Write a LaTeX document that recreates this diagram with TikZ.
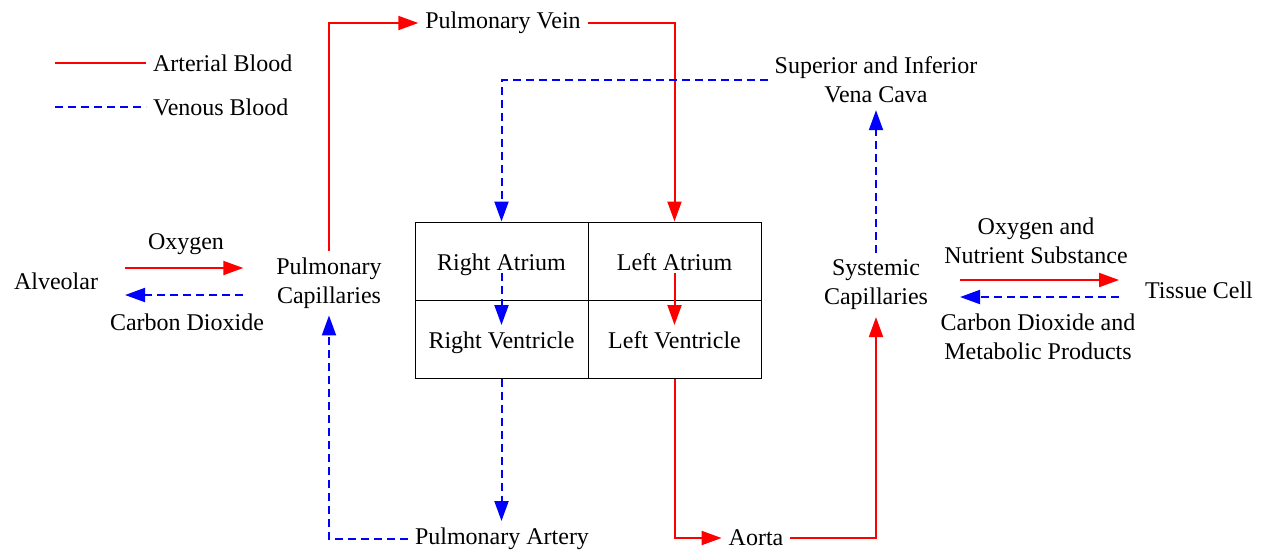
\documentclass[tikz,border=0pt]{standalone}
\usepackage{fontspec}
\setmainfont{Liberation Serif}
\newfontfamily\diagfont{Liberation Serif}
\usetikzlibrary{arrows.meta, positioning}

\begin{document}
\begin{tikzpicture}[
        x=0.5pt, y=-0.5pt,
        lbl/.style={align=center, font=\diagfont\fontsize{12}{14.5}\selectfont},
        cell/.style={draw, line width=0.5pt, rectangle, minimum width=86.5pt, minimum height=39pt, text height=11.5pt, text depth=2.5pt, font=\diagfont\fontsize{12}{14.5}\selectfont},
        art/.style={red, line width=1pt, -{Triangle[length=10pt, width=7pt]}},
        ven/.style={blue, line width=1pt, dash pattern=on 4pt off 2.5pt, -{Triangle[length=10pt, width=7pt]}}
    ]
        \useasboundingbox (0,0) rectangle (1265,554);

        % --- Legend ---
        \node[lbl, anchor=west] (legart) at (146,63) {Arterial Blood};
        \node[lbl, anchor=west] (legven) at (146,107) {Venous Blood};
        \draw[art, -] (55,63) -- (legart.west);
        \draw[ven, -] (55,107) -- (legven.west);

        % --- Heart chambers ---
        \node[cell] (ra) at (501.5,261) {Right Atrium};
        \node[cell] (la) at (674.5,261) {Left Atrium};
        \node[cell] (rv) at (501.5,339) {Right Ventricle};
        \node[cell] (lv) at (674.5,339) {Left Ventricle};

        % --- Vessels and capillaries ---
        \node[lbl] (pv) at (503,23) {Pulmonary Vein};
        \node[lbl] (vc) at (876,80) {Superior and Inferior\\Vena Cava};
        \node[lbl] (pc) at (329,283) {Pulmonary\\Capillaries};
        \node[lbl] (sc) at (876,285) {Systemic\\Capillaries};
        \node[lbl] (pa) at (502,539) {Pulmonary Artery};
        \node[lbl] (ao) at (756,538) {Aorta};

        % --- Exchange partners ---
        \node[lbl] (al) at (56,281) {Alveolar};
        \node[lbl] (tc) at (1199,290) {Tissue Cell};
        \node[lbl] (oxy) at (186,244) {Oxygen};
        \node[lbl] (co2) at (187,322) {Carbon Dioxide};
        \node[lbl] (nut) at (1036,241) {Oxygen and\\Nutrient Substance};
        \node[lbl] (met) at (1038,337) {Carbon Dioxide and\\Metabolic Products};

        % --- Pulmonary circulation ---
        \draw[art] (pc.north) |- (pv.west);
        \draw[art] (pv.east) -| (la.north);
        \draw[art] ([yshift=-6pt]la.center) -- ([yshift=7pt]lv.center);
        \draw[ven] ([yshift=-6pt]ra.center) -- ([yshift=7pt]rv.center);
        \draw[ven] (rv.south) -- (rv.south |- pa.north);
        \draw[ven] (pa.west) -| (pc.south);

        % --- Systemic circulation ---
        \draw[art] (lv.south) |- (ao.west);
        \draw[art] (ao.east) -| (sc.south);
        \draw[ven] (sc.north) -- (vc.south);
        \draw[ven] (vc.west) -| (ra.north);

        % --- Gas and substance exchange ---
        \draw[art, shorten <=10pt, shorten >=13pt] ([yshift=6.5pt]al.east) -- ([yshift=6.5pt]al.east -| pc.west);
        \draw[ven, shorten <=13pt, shorten >=10pt] ([yshift=-7pt]al.east -| pc.west) -- ([yshift=-7pt]al.east);
        \draw[art, shorten <=12.5pt, shorten >=9.5pt] ([yshift=2.5pt]sc.east) -- ([yshift=2.5pt]sc.east -| tc.west);
        \draw[ven, shorten <=9.5pt, shorten >=12.5pt] ([yshift=-6pt]sc.east -| tc.west) -- ([yshift=-6pt]sc.east);

    \end{tikzpicture}
\end{document}
